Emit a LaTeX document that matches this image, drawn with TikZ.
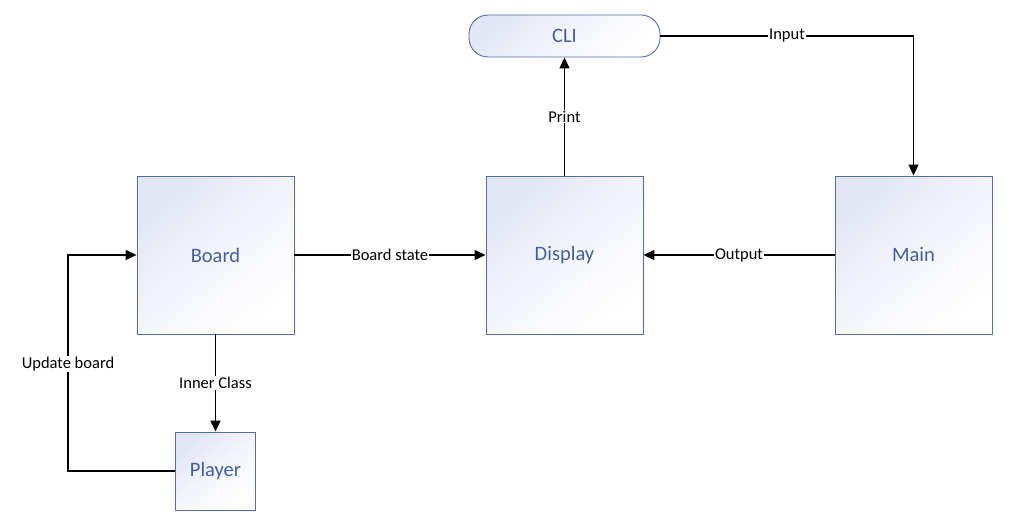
\documentclass[tikz,border=0pt]{standalone}
\usepackage{fontspec}
\setmainfont{Carlito}
\usetikzlibrary{arrows.meta}
\definecolor{boxborder}{HTML}{4F6FB0}
\definecolor{boxtext}{HTML}{41609C}
\definecolor{boxfill}{HTML}{E2E6F5}
\tikzset{
  blk/.style={draw=boxborder, line width=0.9pt, top color=boxfill, bottom color=white, middle color=white!60!boxfill, shading angle=40,
    text=boxtext, font=\fontsize{20.5}{24}\selectfont, inner sep=0pt, minimum width=157pt, minimum height=158pt},
  conn/.style={line width=1.3pt, -{Triangle[length=11pt,width=10pt]}},
  lbl/.style={fill=white, inner sep=1pt, font=\fontsize{16.5}{19}\selectfont, text=black}
}
\begin{document}
\begin{tikzpicture}[x=1pt,y=-1pt]
\useasboundingbox (0,0) rectangle (1022,532);
\node[blk] (board) at (215.5,255) {Board};
\node[blk] (display) at (564.5,255) {Display};
\node[blk] (main) at (913.5,255) {Main};
\node[blk, minimum width=191pt, minimum height=42pt, rounded corners=19pt] (cli) at (564.5,36) {CLI};
\node[blk, minimum width=80pt, minimum height=78pt] (player) at (215.5,471) {Player};
\coordinate (inC) at (913.5,36);
\coordinate (upA) at (68,471);
\coordinate (upB) at (68,255);
\draw[conn] (board.east) -- node[lbl] {Board state} (display.west);
\draw[conn] (main.west) -- node[lbl] {Output} (display.east);
\draw[conn] (display.north) -- node[lbl] {Print} (cli.south);
\draw[conn] (cli.east) -- node[lbl, pos=0.5] {Input} (inC) -- (main.north);
\draw[conn] (board.south) -- node[lbl] {Inner Class} (player.north);
\draw[conn] (player.west) -- (upA) -- node[lbl, pos=0.497] {Update board} (upB) -- (board.west);
\end{tikzpicture}
\end{document}
